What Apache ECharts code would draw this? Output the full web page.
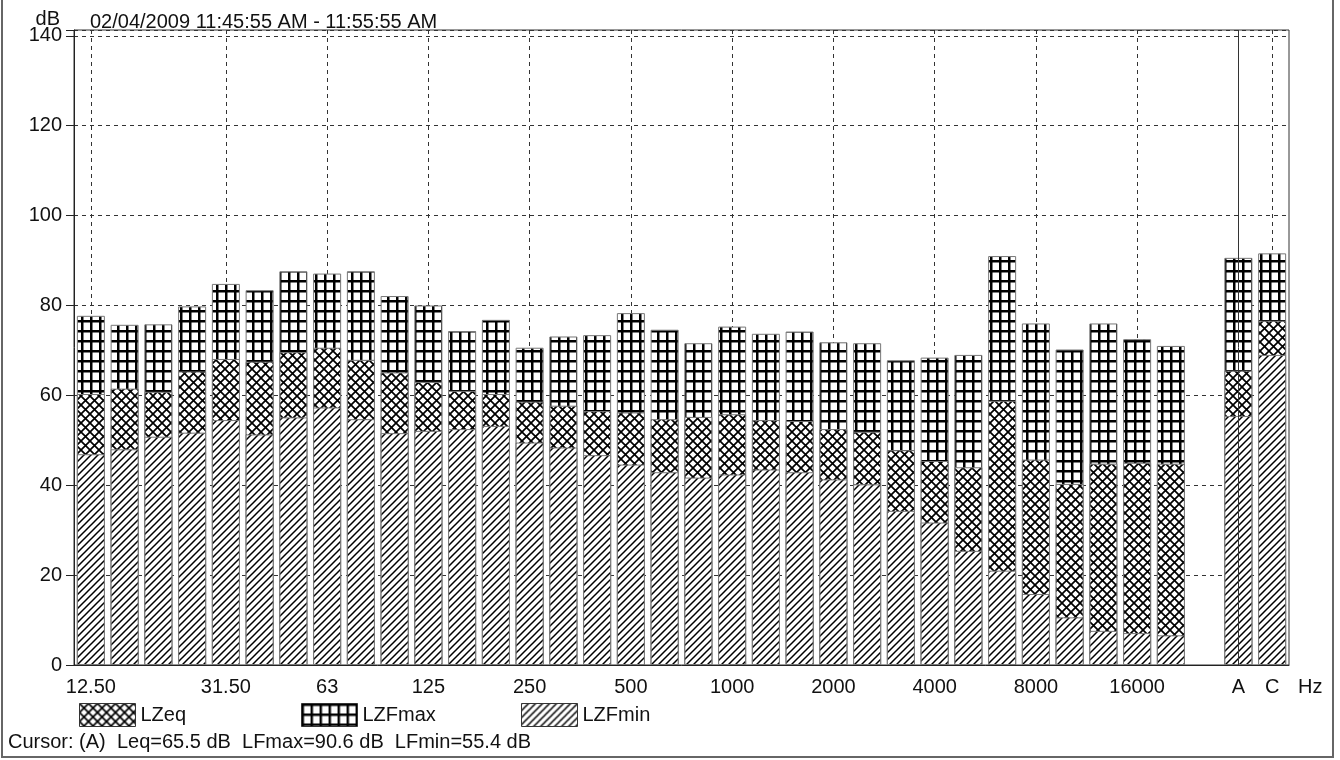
<!DOCTYPE html>
<html>
<head>
<meta charset="utf-8">
<script src="https://cdn.jsdelivr.net/npm/echarts@6/dist/echarts.min.js"></script>
<style>
  html, body { margin: 0; padding: 0; background: #fff; }
  #chart { width: 1340px; height: 760px; }
</style>
</head>
<body>
<div id="chart"></div>
<script>
// 1/3 octave bands, then an empty slot, then A and C weighted totals
var bands = ['12.50', '16', '20', '25', '31.50', '40', '50', '63', '80', '100', '125', '160',
  '200', '250', '315', '400', '500', '630', '800', '1000', '1250', '1600', '2000', '2500',
  '3150', '4000', '5000', '6300', '8000', '10000', '12500', '16000', '20000', ' ', 'A', 'C'];
var tickLabels = ['12.50', '31.50', '63', '125', '250', '500', '1000', '2000', '4000', '8000', '16000', 'A', 'C'];

var lzfMax = [77.7, 75.7, 75.8, 79.8, 84.8, 83.4, 87.6, 87.1, 87.6, 82.1, 80.0, 74.3,
  76.8, 70.6, 73.1, 73.4, 78.3, 74.6, 71.6, 75.3, 73.7, 74.2, 71.8, 71.6,
  67.8, 68.4, 69.0, 91.0, 76.0, 70.2, 76.0, 72.5, 71.0, null, 90.6, 91.6];
var lzEq = [60.3, 61.5, 60.8, 65.3, 68.1, 67.5, 69.6, 70.6, 67.9, 65.1, 63.0, 61.0,
  60.3, 58.6, 57.7, 56.5, 56.2, 54.7, 55.2, 55.8, 54.5, 54.3, 52.5, 51.9,
  47.8, 45.4, 44.0, 58.8, 45.7, 40.3, 44.8, 45.0, 44.8, null, 65.5, 76.6];
var lzfMin = [46.9, 48.0, 50.8, 51.7, 54.5, 51.3, 55.1, 57.3, 54.7, 51.6, 52.1, 52.5,
  53.2, 49.5, 48.4, 46.7, 44.6, 42.9, 41.7, 42.4, 43.5, 42.9, 41.3, 40.2,
  34.3, 31.7, 25.4, 21.0, 15.8, 10.6, 7.6, 7.1, 6.6, null, 55.4, 69.0];

var titleText = '02/04/2009 11:45:55 AM - 11:55:55 AM';
var cursorText = 'Cursor: (A)  Leq=65.5 dB  LFmax=90.6 dB  LFmin=55.4 dB';

var FONT = 'Liberation Sans, Arial, sans-serif';
var INK = '#111';

// hatch fills drawn on small canvases
function makePattern(kind) {
  var c = document.createElement('canvas');
  var ctx;
  if (kind == 'diag') {
    c.width = 7; c.height = 7;
    ctx = c.getContext('2d');
    ctx.fillStyle = '#fff'; ctx.fillRect(0, 0, 7, 7);
    ctx.strokeStyle = '#000'; ctx.lineWidth = 1.5;
    ctx.beginPath();
    ctx.moveTo(-1, 8); ctx.lineTo(8, -1);
    ctx.moveTo(-1, 1); ctx.lineTo(1, -1);
    ctx.moveTo(6, 8); ctx.lineTo(8, 6);
    ctx.stroke();
  } else if (kind == 'cross') {
    c.width = 9; c.height = 9;
    ctx = c.getContext('2d');
    ctx.fillStyle = '#fff'; ctx.fillRect(0, 0, 9, 9);
    ctx.strokeStyle = '#000'; ctx.lineWidth = 1.7;
    ctx.beginPath();
    ctx.moveTo(-1, 10); ctx.lineTo(10, -1);
    ctx.moveTo(-1, -1); ctx.lineTo(10, 10);
    ctx.stroke();
  } else {
    c.width = 9; c.height = 10;
    ctx = c.getContext('2d');
    ctx.fillStyle = '#fff'; ctx.fillRect(0, 0, 9, 10);
    ctx.fillStyle = '#000';
    ctx.fillRect(0, 0, 9, 2.5);
    ctx.fillRect(0, 0, 2.5, 10);
  }
  return { image: c, repeat: 'repeat' };
}

var chart = echarts.init(document.getElementById('chart'));

function isLabelled(i) {
  return tickLabels.indexOf(bands[i]) >= 0;
}

var legendBase = {
  icon: 'rect',
  itemWidth: 56,
  itemHeight: 23,
  selectedMode: false,
  top: 698,
  itemStyle: { borderColor: '#333', borderWidth: 1 },
  textStyle: { fontSize: 20, fontFamily: FONT, color: INK }
};

var option = {
  animation: false,
  backgroundColor: '#fff',
  title: {
    text: titleText,
    left: 85,
    top: 7,
    textStyle: { fontSize: 20, fontWeight: 'normal', fontFamily: FONT, color: INK }
  },
  legend: [
    Object.assign({}, legendBase, { data: ['LZeq'], left: 74 }),
    Object.assign({}, legendBase, { data: ['LZFmax'], left: 296 }),
    Object.assign({}, legendBase, { data: ['LZFmin'], left: 516 })
  ],
  grid: {
    left: 74,
    right: 51,
    top: 30,
    bottom: 95,
    show: true,
    borderColor: '#333',
    borderWidth: 1
  },
  xAxis: {
    type: 'category',
    data: bands,
    name: 'Hz',
    nameLocation: 'end',
    nameGap: 9,
    nameMoveOverlap: false,
    nameTextStyle: { fontSize: 20, fontFamily: FONT, color: INK, verticalAlign: 'top', padding: [12, 0, 0, 0] },
    axisLine: { lineStyle: { color: '#222', width: 1 } },
    axisTick: {
      alignWithLabel: true,
      length: 3,
      interval: function (i) { return isLabelled(i); },
      lineStyle: { color: '#222' }
    },
    axisLabel: {
      interval: function (i) { return isLabelled(i); },
      fontSize: 20,
      fontFamily: FONT,
      color: INK,
      margin: 12
    },
    splitLine: {
      show: true,
      alignWithLabel: true,
      interval: function (i) { return isLabelled(i); },
      lineStyle: { color: '#333', type: [4, 4], width: 1 }
    }
  },
  yAxis: {
    type: 'value',
    min: 0,
    max: 141.3,
    interval: 20,
    name: 'dB',
    nameLocation: 'end',
    nameGap: 1,
    nameMoveOverlap: false,
    nameTextStyle: { fontSize: 20, fontFamily: FONT, color: INK, align: 'right', padding: [0, 14, 0, 0] },
    axisLine: { show: true, lineStyle: { color: '#222', width: 1 } },
    axisTick: { show: true, length: 8, lineStyle: { color: '#222' } },
    axisLabel: {
      fontSize: 20,
      fontFamily: FONT,
      color: INK,
      margin: 12,
      formatter: function (v) { return v % 20 === 0 ? v : ''; }
    },
    splitLine: { show: true, lineStyle: { color: '#333', type: [4, 4], width: 1 } }
  },
  series: [
    {
      name: 'LZFmax',
      type: 'bar',
      data: lzfMax,
      barWidth: 28,
      barGap: '-100%',
      itemStyle: { color: makePattern('grid'), borderColor: '#777', borderWidth: 1 },
      markLine: {
        silent: true,
        symbol: 'none',
        label: { show: false },
        lineStyle: { color: '#333', type: 'solid', width: 1 },
        data: [{ xAxis: 'A' }]
      }
    },
    {
      name: 'LZeq',
      type: 'bar',
      data: lzEq,
      barWidth: 28,
      barGap: '-100%',
      itemStyle: { color: makePattern('cross'), borderColor: '#777', borderWidth: 1 }
    },
    {
      name: 'LZFmin',
      type: 'bar',
      data: lzfMin,
      barWidth: 28,
      barGap: '-100%',
      itemStyle: { color: makePattern('diag'), borderColor: '#777', borderWidth: 1 }
    }
  ],
  graphic: [
    {
      type: 'text',
      left: 8,
      top: 732,
      style: { text: cursorText, font: '20px ' + FONT, fill: INK }
    },
    {
      type: 'rect',
      shape: { x: 2, y: -2, width: 1331, height: 759 },
      style: { fill: 'none', stroke: '#666', lineWidth: 2 },
      silent: true
    }
  ]
};

chart.setOption(option);
</script>
</body>
</html>
